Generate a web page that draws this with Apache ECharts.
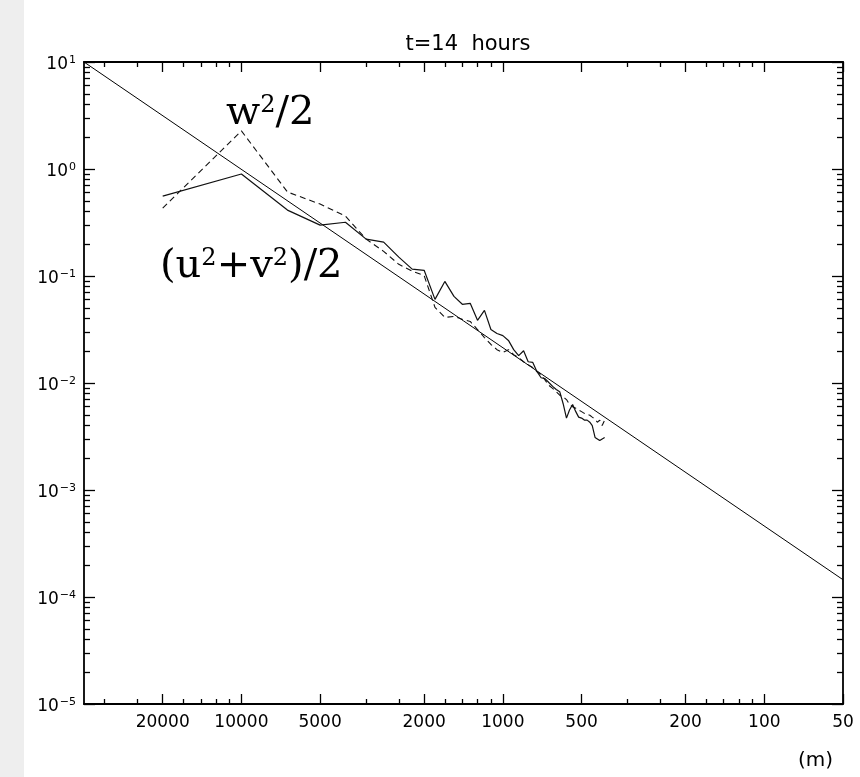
<!DOCTYPE html>
<html>
<head>
<meta charset="utf-8">
<script src="https://cdn.jsdelivr.net/npm/echarts@6.0.0/dist/echarts.min.js"></script>
<style>
  html, body { margin: 0; padding: 0; background: #fff; }
  #chart { width: 860px; height: 777px; }
</style>
</head>
<body>
<div id="chart"></div>
<script>
// wavelengths of the spectral bins (m)
const wavelength = [20000, 10000, 6667, 5000, 4000, 3333, 2857, 2500, 2222, 2000,
  1818, 1667, 1538, 1429, 1333, 1250, 1176, 1111, 1053, 1000,
  952, 909, 870, 833, 800, 769, 741, 714, 690, 667,
  645, 625, 606, 588, 571, 556, 541, 526, 513, 500,
  488, 476, 465, 455, 444, 435, 426, 417, 408];

// (u^2+v^2)/2, solid
const horizEnergy = [0.558, 0.898, 0.413, 0.299, 0.318, 0.221, 0.207, 0.150, 0.116, 0.113,
  0.0605, 0.089, 0.0645, 0.0544, 0.0555, 0.0385, 0.0477, 0.0316, 0.029, 0.0277,
  0.025, 0.0205, 0.018, 0.020, 0.0158, 0.0156, 0.0128, 0.0112, 0.011, 0.0101,
  0.0093, 0.0087, 0.0083, 0.0064, 0.0047, 0.0056, 0.0063, 0.0054, 0.0048, 0.0047,
  0.0045, 0.0045, 0.0043, 0.004, 0.0031, 0.003, 0.0029, 0.003, 0.0031];

// w^2/2, dashed
const vertEnergy = [0.431, 2.27, 0.61, 0.47, 0.363, 0.221, 0.17, 0.1285, 0.111, 0.101,
  0.0509, 0.041, 0.0419, 0.0394, 0.0376, 0.0316, 0.0266, 0.0229, 0.0205, 0.0193,
  0.0205, 0.0184, 0.0172, 0.0158, 0.0148, 0.014, 0.0128, 0.0119, 0.0107, 0.0095,
  0.0089, 0.0083, 0.0077, 0.0074, 0.007, 0.0063, 0.006, 0.0058, 0.0056, 0.0054,
  0.0052, 0.0051, 0.005, 0.0048, 0.0046, 0.0043, 0.0045, 0.004, 0.0045];

// -5/3 reference line end points
const refWavelength = [40000, 50];
const refEnergy = [10, 1.45e-4];

// tick labels and minor tick positions
const xLabelTicks = [20000, 10000, 5000, 2000, 1000, 500, 200, 100, 50];
const xMinorTicks = [33333, 25000, 16667, 14286, 12500, 11111, 3333, 2500,
  1667, 1429, 1250, 1111, 333, 250, 167, 143, 125, 111];
const yDecades = [-5, -4, -3, -2, -1, 0, 1];
const yMinorMult = [2, 3, 4, 5, 6, 7, 8, 9];

// log10 on both axes; y shifted by 6 decades so its range (1..7) doesn't cross zero
const lg = Math.log10;
const Y_OFF = 6;
const xMin = lg(50), xMax = lg(40000);
const yMin = yDecades[0] + Y_OFF, yMax = yDecades[yDecades.length - 1] + Y_OFF;
const yMinorVals = [];
yDecades.slice(0, -1).forEach(e => yMinorMult.forEach(m => yMinorVals.push(e + Y_OFF + lg(m))));

const toPts = (xs, ys) => xs.map((x, i) => [lg(x), lg(ys[i]) + Y_OFF]);

const frame = { show: true, lineStyle: { color: '#000', width: 1.8 } };
const noLine = { show: false };
const tickStyle = { color: '#000', width: 1.3 };

const xLabel = {
  show: true, customValues: xLabelTicks.map(lg), margin: 10,
  fontFamily: 'DejaVu Sans', fontSize: 17, color: '#000',
  formatter: v => String(Math.round(Math.pow(10, v)))
};
const yLabel = {
  show: true, margin: 8, color: '#000',
  formatter: v => {
    const e = Math.round(v) - Y_OFF;
    return '{b|10}{s|' + (e < 0 ? '\u2212' + Math.abs(e) : e) + '}';
  },
  rich: {
    b: { fontFamily: 'DejaVu Sans', fontSize: 17, color: '#000', padding: [6, 0, 0, 0] },
    s: { fontFamily: 'DejaVu Sans', fontSize: 11, color: '#000', padding: [0, 0, 4, 1] }
  }
};

function xAxisDef(pos, vals, len, label) {
  return {
    type: 'value', position: pos, min: xMin, max: xMax, inverse: true,
    axisLine: len > 6 ? frame : noLine,
    splitLine: { show: false },
    axisTick: { show: true, inside: true, length: len, customValues: vals.map(lg), lineStyle: tickStyle },
    axisLabel: label || { show: false }
  };
}

function yAxisDef(pos, vals, len, label) {
  const a = {
    type: 'value', position: pos, min: yMin, max: yMax,
    axisLine: len > 8 ? frame : noLine,
    splitLine: { show: false },
    axisTick: { show: true, inside: true, length: len, lineStyle: tickStyle },
    axisLabel: label || { show: false }
  };
  if (vals) a.axisTick.customValues = vals;
  else a.interval = 1;
  return a;
}

const chart = echarts.init(document.getElementById('chart'), null, { renderer: 'canvas' });

chart.setOption({
  backgroundColor: '#fff',
  animation: false,
  title: {
    text: 't=14  hours', left: 463, top: 29, textAlign: 'center',
    textStyle: { fontFamily: 'DejaVu Sans', fontSize: 21, fontWeight: 'normal', color: '#000' }
  },
  grid: { left: 84, right: 17, top: 62, bottom: 73, containLabel: false, outerBoundsMode: 'none' },
  xAxis: [
    xAxisDef('bottom', xLabelTicks, 10, xLabel),
    xAxisDef('bottom', xMinorTicks, 5, null),
    xAxisDef('top', xLabelTicks, 10, null),
    xAxisDef('top', xMinorTicks, 5, null)
  ],
  yAxis: [
    yAxisDef('left', null, 11, yLabel),
    yAxisDef('left', yMinorVals, 6, null),
    yAxisDef('right', null, 11, null),
    yAxisDef('right', yMinorVals, 6, null)
  ],
  graphic: [
    { type: 'rect', left: 0, top: 0, z: -10, shape: { width: 24, height: 777 },
      style: { fill: '#eeeeee' } },
    {
      type: 'text', x: 226, y: 94, z: 100,
      style: {
        text: '{a|w}{s|2}{a|/2}',
        rich: {
          a: { fontFamily: 'DejaVu Serif', fontSize: 40, fill: '#000' },
          s: { fontFamily: 'DejaVu Serif', fontSize: 24, fill: '#000', padding: [0, 0, 16, 0] }
        }
      }
    },
    {
      type: 'text', x: 160, y: 247, z: 100,
      style: {
        text: '{a|(u}{s|2}{a|+v}{s|2}{a|)/2}',
        rich: {
          a: { fontFamily: 'DejaVu Serif', fontSize: 40, fill: '#000' },
          s: { fontFamily: 'DejaVu Serif', fontSize: 24, fill: '#000', padding: [0, 0, 16, 0] }
        }
      }
    },
    {
      type: 'text', x: 798, y: 751, z: 100,
      style: { text: '(m)', fontFamily: 'DejaVu Sans', fontSize: 20, fill: '#000' }
    }
  ],
  series: [
    {
      name: 'reference', type: 'line',
      data: toPts(refWavelength, refEnergy), showSymbol: false, silent: true,
      lineStyle: { color: '#000', width: 1 }
    },
    {
      name: '(u2+v2)/2', type: 'line',
      data: toPts(wavelength, horizEnergy), showSymbol: false, silent: true,
      lineStyle: { color: '#111', width: 1.2 }
    },
    {
      name: 'w2/2', type: 'line',
      data: toPts(wavelength, vertEnergy), showSymbol: false, silent: true,
      lineStyle: { color: '#111', width: 1.1, type: [6, 4] }
    }
  ]
});
</script>
</body>
</html>
